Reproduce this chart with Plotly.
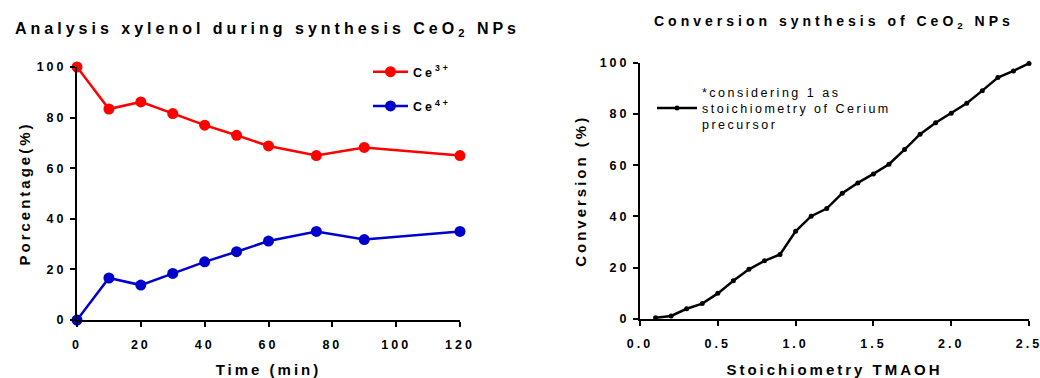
import plotly.graph_objects as go

# Left panel: Ce3+/Ce4+ fractions over reaction time
time_min = [0, 10, 20, 30, 40, 50, 60, 75, 90, 120]
ce3_pct = [100, 83.4, 86.2, 81.6, 77.0, 73.0, 68.8, 65.0, 68.2, 65.0]
ce4_pct = [0, 16.6, 13.8, 18.4, 23.0, 27.0, 31.2, 35.0, 31.8, 35.0]

# Right panel: conversion versus TMAOH stoichiometry
tmaoh_ratio = [0.1, 0.2, 0.3, 0.4, 0.5, 0.6, 0.7, 0.8, 0.9, 1.0,
               1.1, 1.2, 1.3, 1.4, 1.5, 1.6, 1.7, 1.8, 1.9, 2.0,
               2.1, 2.2, 2.3, 2.4, 2.5]
conversion_pct = [0.5, 1.2, 4.0, 6.0, 10.0, 14.9, 19.4, 22.7, 25.2, 34.2,
                  40.1, 43.1, 49.1, 53.1, 56.6, 60.4, 66.1, 72.1, 76.6, 80.3,
                  84.2, 89.1, 94.2, 96.8, 99.7]

left_xticks = [0, 20, 40, 60, 80, 100, 120]
right_xticks = [0.0, 0.5, 1.0, 1.5, 2.0, 2.5]
yticks = [0, 20, 40, 60, 80, 100]

FONT = "Liberation Sans, Arial, Helvetica, sans-serif"
W, H = 1040, 378


def px_x(p):
    return p / W


def px_y(p):
    return 1 - p / H


fig = go.Figure()

fig.add_trace(go.Scatter(
    x=time_min, y=ce3_pct, name="Ce<sup>3+</sup>", mode="lines+markers",
    line=dict(color="#FF0000", width=2.5),
    marker=dict(color="#FF0000", size=11),
    xaxis="x", yaxis="y", cliponaxis=False, legend="legend", legendgroup="a",
))
fig.add_trace(go.Scatter(
    x=time_min, y=ce4_pct, name="Ce<sup>4+</sup>", mode="lines+markers",
    line=dict(color="#0000CC", width=2.5),
    marker=dict(color="#0000CC", size=11),
    xaxis="x", yaxis="y", cliponaxis=False, legend="legend", legendgroup="b",
))
fig.add_trace(go.Scatter(
    x=tmaoh_ratio, y=conversion_pct,
    name="*considering 1 as<br>stoichiometry of Cerium<br>precursor",
    mode="lines+markers",
    line=dict(color="black", width=2.5),
    marker=dict(color="black", size=5),
    xaxis="x2", yaxis="y2", cliponaxis=False, legend="legend2",
))

axis_common = dict(
    showline=True, linecolor="black", linewidth=2,
    ticks="outside", ticklen=5, tickwidth=2, tickcolor="black",
    showgrid=False, zeroline=False, automargin=False,
    tickfont=dict(family=FONT, size=12.5, color="black", weight="bold"),
)
title_font = dict(family=FONT, size=15, color="black", weight="bold")

fig.update_layout(
    width=W, height=H,
    margin=dict(l=0, r=0, t=0, b=0),
    paper_bgcolor="white", plot_bgcolor="white",
    font=dict(family=FONT, color="black"),
    showlegend=True,
    xaxis=dict(domain=[px_x(77), px_x(460)], range=[0, 120], tickvals=left_xticks,
               anchor="y", ticklabelstandoff=7,
               title=dict(text="Time (min)", font=title_font, standoff=16),
               **axis_common),
    yaxis=dict(domain=[px_y(320), px_y(67)], range=[0, 100], tickvals=yticks,
               anchor="x", ticklabelstandoff=1,
               title=dict(text="Porcentage(%)", font=title_font, standoff=11),
               **axis_common),
    xaxis2=dict(domain=[px_x(640), px_x(1029)], range=[0, 2.5], tickvals=right_xticks,
                tickformat=".1f", anchor="y2", ticklabelstandoff=7,
                title=dict(text="Stoichiometry TMAOH", font=title_font, standoff=16),
                **axis_common),
    yaxis2=dict(domain=[px_y(319), px_y(62.7)], range=[0, 100], tickvals=yticks,
                anchor="x2", ticklabelstandoff=1,
                title=dict(text="Conversion (%)", font=title_font, standoff=18),
                **axis_common),
    legend=dict(x=px_x(368), y=px_y(57), xanchor="left", yanchor="top",
                bgcolor="rgba(0,0,0,0)", itemwidth=35, tracegroupgap=15,
                traceorder="grouped",
                font=dict(family=FONT, size=12.5, color="black", weight="bold")),
    legend2=dict(x=px_x(652), y=px_y(77), xanchor="left", yanchor="top",
                 bgcolor="rgba(0,0,0,0)", itemwidth=40, valign="middle",
                 font=dict(family=FONT, size=12.5, color="black")),
    annotations=[
        dict(text="Analysis xylenol during synthesis CeO<sub>2</sub> NPs",
             x=px_x(267), y=px_y(30), xref="paper", yref="paper",
             xanchor="center", yanchor="middle", showarrow=False,
             font=dict(family=FONT, size=16, color="black", weight="bold")),
        dict(text="Conversion synthesis of CeO<sub>2</sub> NPs",
             x=px_x(834), y=px_y(22), xref="paper", yref="paper",
             xanchor="center", yanchor="middle", showarrow=False,
             font=dict(family=FONT, size=14, color="black", weight="bold")),
    ],
)

# Wide tracking on all labels, as in the original figure style; legend
# boxes are sized before the tracking is applied, so drop their clipping.
spacing_css = """
var s = document.createElement('style');
s.textContent = 'svg text{letter-spacing:3px}' +
  'text.annotation-text{letter-spacing:4px}' +
  'g.legend2 text{letter-spacing:2.5px}' +
  'g.legend g.scrollbox, g.legend2 g.scrollbox{clip-path:none !important}';
document.head.appendChild(s);
"""

fig.write_html("out.html", post_script=spacing_css)
